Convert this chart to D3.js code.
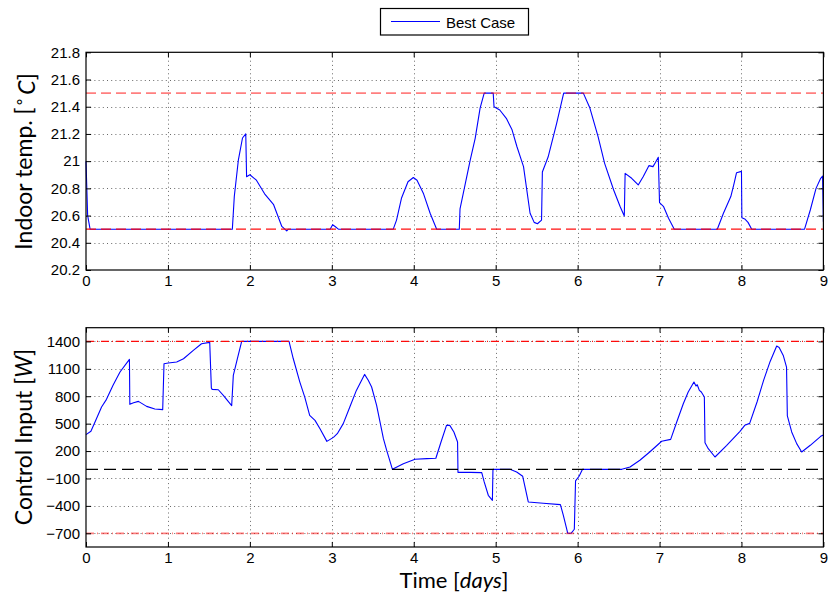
<!DOCTYPE html>
<html>
<head>
<meta charset="utf-8">
<script src="https://cdn.jsdelivr.net/npm/d3@7"></script>
<style>
  html, body { margin: 0; padding: 0; background: #fff; }
  svg { display: block; }
</style>
</head>
<body>
<svg id="chart" width="828" height="593"></svg>
<script>
// Simulation time axis (days)
const dayTicks = [0, 1, 2, 3, 4, 5, 6, 7, 8, 9];
const dayTickLabels = ["0", "1", "2", "3", "4", "5", "6", "7", "8", "9"];

// Indoor temperature trajectory
const tempDays = [0, 0.02, 0.05, 1.786, 1.81, 1.86, 1.91, 1.95, 1.96, 2.0, 2.08, 2.18, 2.29, 2.39, 2.45, 2.47,
  2.98, 3.01, 3.04, 3.08, 3.75, 3.79, 3.85, 3.93, 3.995, 4.04, 4.12, 4.2, 4.28, 4.556, 4.565, 4.63, 4.69,
  4.75, 4.81, 4.86, 4.97, 4.98, 5.05, 5.13, 5.2, 5.26, 5.34, 5.38, 5.42, 5.47, 5.51, 5.56, 5.57, 5.64,
  5.745, 5.83, 6.07, 6.15, 6.25, 6.33, 6.44, 6.52, 6.57, 6.58, 6.66, 6.74, 6.8, 6.87, 6.92, 6.95, 6.985,
  7.0, 7.05, 7.11, 7.18, 7.705, 7.78, 7.87, 7.91, 7.94, 8.0, 8.005, 8.04, 8.08, 8.125, 8.77, 8.84, 8.91,
  8.967, 8.99, 9.0];
const tempValues = [21.0, 20.6, 20.5, 20.5, 20.74, 21.01, 21.17, 21.2, 20.886, 20.9, 20.86, 20.76, 20.68, 20.52, 20.487, 20.5,
  20.5, 20.533, 20.52, 20.5, 20.5, 20.567, 20.727, 20.849, 20.88, 20.86, 20.76, 20.617, 20.5, 20.5, 20.65, 20.837, 21.01,
  21.168, 21.39, 21.5, 21.5, 21.4, 21.376, 21.315, 21.23, 21.106, 20.96, 20.788, 20.617, 20.55, 20.54, 20.567, 20.92, 21.03,
  21.28, 21.5, 21.5, 21.39, 21.18, 20.984, 20.788, 20.665, 20.597, 20.91, 20.874, 20.825, 20.886, 20.967, 20.96, 20.99, 21.028,
  20.695, 20.665, 20.58, 20.5, 20.5, 20.617, 20.74, 20.837, 20.915, 20.925, 20.584, 20.575, 20.55, 20.5, 20.5, 20.641, 20.8,
  20.874, 20.89, 20.555];
const tempTicks = [20.2, 20.4, 20.6, 20.8, 21.0, 21.2, 21.4, 21.6, 21.8];
const tempTickLabels = ["20.2", "20.4", "20.6", "20.8", "21", "21.2", "21.4", "21.6", "21.8"];
const tempLower = 20.5;
const tempUpper = 21.5;

// Heating / cooling power applied
const powerDays = [0, 0.06, 0.11, 0.19, 0.25, 0.33, 0.415, 0.53, 0.535, 0.58, 0.64, 0.74, 0.84, 0.936, 0.952,
  1.005, 1.107, 1.19, 1.31, 1.41, 1.51, 1.53, 1.54, 1.615, 1.676, 1.778, 1.798, 1.847, 1.9, 2.478, 2.53,
  2.61, 2.67, 2.73, 2.795, 2.856, 2.94, 3.02, 3.067, 3.14, 3.22, 3.3, 3.4, 3.445, 3.486, 3.547, 3.63, 3.67,
  3.74, 3.873, 4.016, 4.16, 4.27, 4.333, 4.4, 4.44, 4.49, 4.535, 4.54, 4.69, 4.83, 4.86, 4.91, 4.96, 4.967,
  5.175, 5.256, 5.33, 5.398, 5.58, 5.79, 5.826, 5.88, 5.92, 5.96, 5.975, 6.02, 6.06, 6.54, 6.64, 6.76,
  6.88, 7.026, 7.136, 7.21, 7.29, 7.35, 7.42, 7.445, 7.46, 7.486, 7.51, 7.547, 7.555, 7.595, 7.677, 7.82,
  7.982, 8.04, 8.1, 8.19, 8.27, 8.35, 8.43, 8.46, 8.51, 8.55, 8.56, 8.613, 8.674, 8.735, 8.84, 8.967, 9.0];
const powerValues = [380, 416, 518, 682, 766, 919, 1065, 1203, 711, 729, 744, 689, 660, 653, 1156,
  1163, 1174, 1210, 1302, 1374, 1389, 890, 875, 871, 810, 697, 1028, 1210, 1400, 1400, 1210,
  955, 791, 591, 536, 445, 306, 350, 390, 500, 682, 864, 1039, 974, 901, 700, 336, 208,
  0, 62, 110, 117, 121, 299, 481, 481, 409, 299, -33, -33, -36, -138, -284, -339, 0,
  0, -29, -76, -357, -371, -386, -503, -700, -700, -656, -127, -73, 0, 0, 26, 99,
  190, 307, 328, 518, 718, 846, 955, 912, 926, 864, 846, 791, 292, 226, 135, 263,
  416, 482, 503, 737, 974, 1181, 1349, 1334, 1247, 1119, 584, 409, 281, 190, 263, 361, 375];
const powerTicks = [-700, -400, -100, 200, 500, 800, 1100, 1400];
const powerTickLabels = ["\u2212700", "\u2212400", "\u2212100", "200", "500", "800", "1100", "1400"];
const powerMin = -700;
const powerMax = 1400;
const powerZero = 0;

const seriesName = "Best Case";

const svg = d3.select("#chart");
const tickFont = "'Liberation Sans', Arial, Helvetica, sans-serif";
const titleFont = "Lato, 'Open Sans', sans-serif";

const x = d3.scaleLinear().domain([0, 9]).range([86, 823.4]);

function drawPanel(cfg) {
  const y = cfg.y;
  const [x0, x1] = x.range();
  const [yb, yt] = y.range();
  const g = svg.append("g");

  // dotted grid
  const grid = g.append("g")
    .attr("stroke", "#222").attr("stroke-width", 0.9)
    .attr("stroke-dasharray", "1,3.2").attr("opacity", 0.75);
  grid.selectAll(".gx").data(dayTicks.filter(d => d > 0 && d < 9)).join("line")
    .attr("x1", d => Math.round(x(d)) + 0.5).attr("x2", d => Math.round(x(d)) + 0.5)
    .attr("y1", yt).attr("y2", yb);
  grid.selectAll(".gy").data(cfg.ticks.filter(d => y(d) > yt + 1 && y(d) < yb - 1)).join("line")
    .attr("y1", d => Math.round(y(d)) + 0.5).attr("y2", d => Math.round(y(d)) + 0.5)
    .attr("x1", x0).attr("x2", x1);

  // series
  const line = d3.line().x(d => x(d[0])).y(d => y(d[1]));
  g.append("path")
    .datum(d3.zip(cfg.days, cfg.values))
    .attr("fill", "none").attr("stroke", "#0000ff").attr("stroke-width", 1.1)
    .attr("stroke-linejoin", "round")
    .attr("d", line);

  // reference / limit lines
  cfg.refs.forEach(r => {
    g.append("line")
      .attr("x1", x0).attr("x2", x1)
      .attr("y1", y(r.value)).attr("y2", y(r.value))
      .attr("stroke", r.color).attr("stroke-width", r.width)
      .attr("stroke-opacity", r.opacity)
      .attr("stroke-dasharray", r.dash);
  });

  // frame
  g.append("rect")
    .attr("x", x0).attr("y", yt).attr("width", x1 - x0).attr("height", yb - yt)
    .attr("fill", "none").attr("stroke", "#000").attr("stroke-width", 1.2);

  // axes with inward ticks on all sides
  const fmtY = d => cfg.labels[cfg.ticks.indexOf(d)];
  const fmtX = d => dayTickLabels[dayTicks.indexOf(d)];
  const left = g.append("g").attr("transform", `translate(${x0},0)`)
    .call(d3.axisLeft(y).tickValues(cfg.ticks).tickFormat(fmtY).tickSizeInner(-5).tickSizeOuter(0).tickPadding(6));
  const right = g.append("g").attr("transform", `translate(${x1},0)`)
    .call(d3.axisRight(y).tickValues(cfg.ticks).tickFormat("").tickSizeInner(-5).tickSizeOuter(0));
  const bottom = g.append("g").attr("transform", `translate(0,${yb})`)
    .call(d3.axisBottom(x).tickValues(dayTicks).tickFormat(fmtX).tickSizeInner(-5).tickSizeOuter(0).tickPadding(5.5));
  const top = g.append("g").attr("transform", `translate(0,${yt})`)
    .call(d3.axisTop(x).tickValues(dayTicks).tickFormat("").tickSizeInner(-5).tickSizeOuter(0));
  [left, right, bottom, top].forEach(a => {
    a.select(".domain").remove();
    a.selectAll("line").attr("stroke", "#000").attr("stroke-width", 1);
    a.selectAll("text").attr("fill", "#000")
      .style("font-family", tickFont).style("font-size", "15px");
  });
}

// upper panel: indoor temperature
const yTemp = d3.scaleLinear().domain([20.2, 21.8]).range([270, 52.3]);
drawPanel({
  y: yTemp, days: tempDays, values: tempValues,
  ticks: tempTicks, labels: tempTickLabels,
  refs: [
    { value: tempUpper, color: "#ff0000", width: 1.8, opacity: 0.5, dash: "10,5" },
    { value: tempLower, color: "#ff0000", width: 1.2, opacity: 0.95, dash: "10,5" }
  ]
});

// lower panel: control input
const yPower = d3.scaleLinear().domain([-850, 1550]).range([547, 327.7]);
drawPanel({
  y: yPower, days: powerDays, values: powerValues,
  ticks: powerTicks, labels: powerTickLabels,
  refs: [
    { value: powerMax, color: "#ff0000", width: 1.1, opacity: 0.95, dash: "8,3,1,3" },
    { value: powerMin, color: "#ff0000", width: 1.8, opacity: 0.5, dash: "8,3,1,3" },
    { value: powerZero, color: "#000000", width: 1.1, opacity: 1, dash: "12,6" }
  ]
});

// axis titles
const titleSize = "23px";
const tTop = svg.append("text")
  .attr("transform", "translate(32,161.5) rotate(-90)")
  .attr("text-anchor", "middle")
  .style("font-family", titleFont).style("font-size", titleSize).attr("fill", "#000");
tTop.append("tspan").text("Indoor temp.  [");
tTop.append("tspan").attr("dy", "-0.42em").style("font-size", "16px").text("\u2218");
tTop.append("tspan").attr("dy", "0.42em").style("font-style", "italic").text("\u2009C");
tTop.append("tspan").text("]");

const tBot = svg.append("text")
  .attr("transform", "translate(32,437) rotate(-90)")
  .attr("text-anchor", "middle")
  .style("font-family", titleFont).style("font-size", titleSize).attr("fill", "#000");
tBot.append("tspan").text("Control Input [");
tBot.append("tspan").style("font-style", "italic").text("W");
tBot.append("tspan").text("]");

const tX = svg.append("text")
  .attr("x", 454).attr("y", 587.5)
  .attr("text-anchor", "middle")
  .style("font-family", titleFont).style("font-size", "22px").attr("fill", "#000");
tX.append("tspan").text("Time [");
tX.append("tspan").style("font-style", "italic").text("days");
tX.append("tspan").text("]");

// legend
const lg = svg.append("g");
lg.append("rect").attr("x", 380.5).attr("y", 8.5).attr("width", 148).attr("height", 26.5)
  .attr("fill", "#fff").attr("stroke", "#000").attr("stroke-width", 1.2);
lg.append("line").attr("x1", 391).attr("x2", 440).attr("y1", 21.5).attr("y2", 21.5)
  .attr("stroke", "#0000ff").attr("stroke-width", 1.1);
lg.append("text").attr("x", 446).attr("y", 27.5).text(seriesName)
  .style("font-family", tickFont).style("font-size", "15px").attr("fill", "#000");
</script>
</body>
</html>
